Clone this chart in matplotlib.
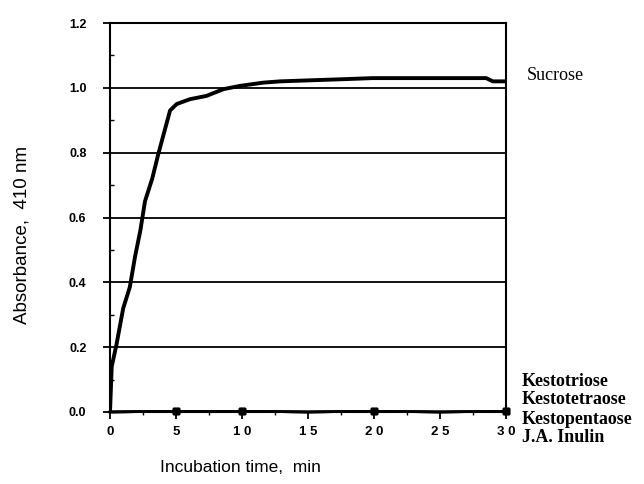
import matplotlib
matplotlib.use("Agg")
import matplotlib.pyplot as plt
from matplotlib.ticker import MultipleLocator

# Data
sucrose_t = [0, 0.13, 0.5, 1.0, 1.5, 1.9, 2.3, 2.65, 3.2, 3.66, 4.55, 5.05, 6.06, 7.3, 8.6, 9.85, 11.6, 12.9, 17.9, 19.9, 28.5, 29.0, 30]
sucrose_a = [0, 0.14, 0.21, 0.32, 0.385, 0.48, 0.56, 0.65, 0.72, 0.796, 0.93, 0.95, 0.965, 0.975, 0.996, 1.006, 1.016, 1.02, 1.027, 1.03, 1.03, 1.02, 1.02]
zero_t = [0, 5, 10, 15, 20, 25, 30]
zero_a = [0.0, 0.002, 0.002, 0.0, 0.002, 0.0, 0.002]
zero_names = ["Kestotriose", "Kestotetraose", "Kestopentaose", "J.A. Inulin"]
x_ticks = [0, 5, 10, 15, 20, 25, 30]
x_tick_labels = ["0", "5", "1 0", "1 5", "2 0", "2 5", "3 0"]
y_ticks = [0.0, 0.2, 0.4, 0.6, 0.8, 1.0, 1.2]
y_tick_labels = ["0.0", "0.2", "0.4", "0.6", "0.8", "1.0", "1.2"]

fig = plt.figure(figsize=(6.44, 4.84), dpi=100)
ax = fig.add_axes([110/644, 1-412/484, 396/644, 389/484])

ax.set_xlim(0, 30)
ax.set_ylim(0, 1.2)

for y in y_ticks[1:-1]:
    ax.axhline(y, color="black", lw=1.3, zorder=1)

ax.plot(sucrose_t, sucrose_a, color="black", lw=2.8, solid_capstyle="round", zorder=3)
for i, name in enumerate(zero_names):
    ax.plot(zero_t, zero_a, color="black", lw=1.8, marker="s", ms=4.5,
            markevery=[1, 2, 4, 6], zorder=4, clip_on=False)

ax.set_xticks(x_ticks)
ax.set_xticklabels(x_tick_labels, fontsize=9.5, fontweight="bold", family="Liberation Sans")
ax.set_yticks(y_ticks)
ax.set_yticklabels(y_tick_labels, fontsize=9, fontweight="bold", family="Liberation Sans")
ax.xaxis.set_minor_locator(MultipleLocator(2.5))
ax.yaxis.set_minor_locator(MultipleLocator(0.1))
ax.tick_params(axis="both", which="major", direction="out", length=5, width=1.3)
ax.tick_params(axis="x", which="major", pad=5)
ax.tick_params(axis="y", which="major", pad=12)
ax.tick_params(axis="x", which="minor", direction="out", length=2, width=1.0)
ax.tick_params(axis="y", which="minor", direction="in", length=3, width=1.0)
ax.tick_params(axis="y", which="both", right=False)

for s in ax.spines.values():
    s.set_linewidth(1.5)

fig.text(22/644, 1-235/484, "Absorbance,  410 nm", fontsize=13.5, family="Liberation Sans",
         rotation=90, ha="center", va="center")
fig.text(240/644, 1-467/484, "Incubation time,  min", fontsize=12.5, family="Liberation Sans",
         ha="center", va="center")

fig.text(527/644, 1-76/484, "Sucrose", fontsize=13, family="Liberation Serif", va="center")
for i, name in enumerate(zero_names):
    fig.text(522/644, 1-(381 + 19*i)/484, name, fontsize=13, family="Liberation Serif",
             fontweight="bold", va="center")

fig.savefig("out.png", dpi=100, facecolor="white")
